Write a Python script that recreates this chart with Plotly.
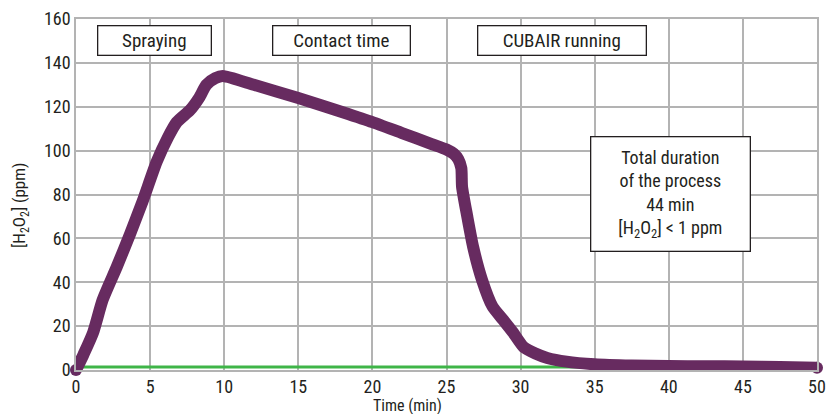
import plotly.graph_objects as go

# Data
time_min = [0, 0.5, 1.15, 1.8, 2.75, 3.65, 4.5, 5.45, 6.2, 6.8, 7.7, 8.3, 8.8, 9.4, 9.9,
            12, 15, 18, 20, 22, 24, 25, 25.5, 25.8, 26.0, 26.05, 26.4, 26.8, 27.4, 28.1,
            28.8, 29.5, 30.2, 31.0, 31.8, 33.1, 35.0, 37.5, 40, 42.5, 45, 47.5, 50]
h2o2_ppm = [0, 7, 17, 32, 47, 62, 77, 95, 106, 113, 118.5, 124, 130, 133, 134,
            130, 124, 117.5, 113, 108, 103, 100.5, 98.5, 96, 92, 83.5, 70, 56, 41, 29,
            23, 17, 10.5, 7.5, 5.5, 3.8, 2.6, 2.0, 1.8, 1.7, 1.6, 1.4, 1.0]
limit_x = [0.4, 50]
limit_y = [1.4, 1.4]

x_ticks = [0, 5, 10, 15, 20, 25, 30, 35, 40, 45, 50]
y_ticks = [0, 20, 40, 60, 80, 100, 120, 140, 160]

phase_labels = ["Spraying", "Contact time", "CUBAIR running"]
phase_x = [5.33, 17.9, 32.8]
phase_y = [150, 150, 150]
phase_w = [106, 130, 161]

FONT = "Liberation Sans Narrow, Roboto Condensed, Arial Narrow, sans-serif"
PURPLE = "#672b60"

fig = go.Figure()
fig.add_trace(go.Scatter(x=limit_x, y=limit_y, mode="lines",
                         line=dict(color="#3fb548", width=3), hoverinfo="skip"))
fig.add_trace(go.Scatter(x=time_min, y=h2o2_ppm, mode="lines", cliponaxis=False,
                         line=dict(color=PURPLE, width=12, shape="spline", smoothing=0.6)))
# round line caps at both ends of the curve
fig.add_trace(go.Scatter(x=[time_min[0], time_min[-1]], y=[h2o2_ppm[0], h2o2_ppm[-1]],
                         mode="markers", cliponaxis=False, hoverinfo="skip",
                         marker=dict(color=PURPLE, size=12, line=dict(width=0))))

for lbl, xx, yy, ww in zip(phase_labels, phase_x, phase_y, phase_w):
    fig.add_annotation(x=xx, y=yy, text=lbl, showarrow=False,
                       font=dict(family=FONT, size=19, color="#231f20"),
                       bordercolor="#231f20", borderwidth=1.3, borderpad=3,
                       bgcolor="white", width=ww, height=22)

fig.add_annotation(x=40.1, y=80.2,
                   text="Total duration<br>of the process<br>44 min<br>[H<sub>2</sub>O<sub>2</sub>] < 1 ppm",
                   showarrow=False, align="center",
                   font=dict(family=FONT, size=18, color="#231f20"),
                   bordercolor="#231f20", borderwidth=1.3, borderpad=6, bgcolor="white",
                   width=146, height=101)

# axis titles placed as in the reference
fig.add_annotation(x=22.4, xref="x", y=-0.102, yref="paper", yanchor="middle",
                   text="Time (min)", showarrow=False,
                   font=dict(family=FONT, size=16, color="#231f20"))
fig.add_annotation(x=-0.075, xref="paper", y=75, yref="y", xanchor="center",
                   text="[H<sub>2</sub>O<sub>2</sub>] (ppm)", showarrow=False, textangle=-90,
                   font=dict(family=FONT, size=17, color="#231f20"))

# page body adds an 8px offset, so the figure is sized/margined to compensate
fig.update_layout(
    width=830, height=406,
    margin=dict(l=68, r=21, t=11, b=44),
    paper_bgcolor="white", plot_bgcolor="white",
    showlegend=False,
    font=dict(family=FONT, size=18, color="#231f20"),
)
fig.update_xaxes(range=[0, 50], tickvals=x_ticks, showgrid=True, gridcolor="#b3b3b3",
                 gridwidth=1.5, zeroline=False, showline=True, linecolor="#b3b3b3",
                 linewidth=1.5, mirror=True, ticks="", automargin=False,
                 tickfont=dict(size=18))
fig.update_yaxes(range=[0, 160], tickvals=y_ticks, showgrid=True, gridcolor="#b3b3b3",
                 gridwidth=1.5, zeroline=False, showline=True, linecolor="#b3b3b3",
                 linewidth=1.5, mirror=True, ticks="", automargin=False,
                 tickfont=dict(size=18))

fig.write_html("out.html")
